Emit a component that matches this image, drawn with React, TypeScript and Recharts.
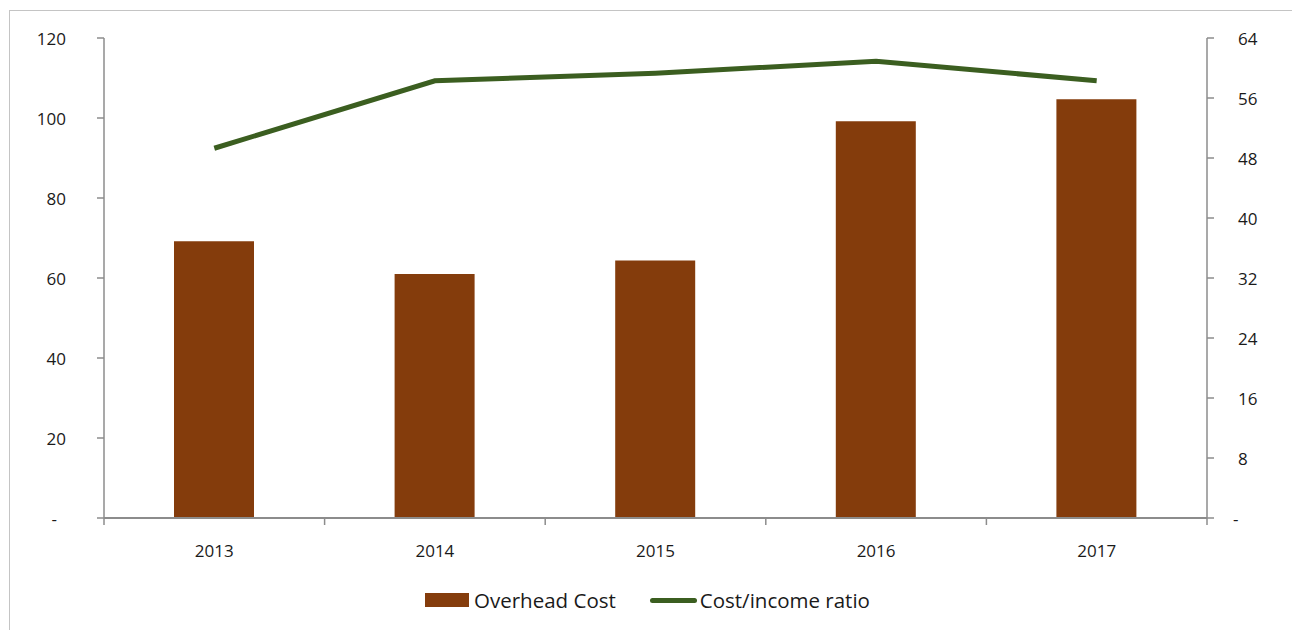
import React from 'react';
import {
  ComposedChart,
  Bar,
  Line,
  XAxis,
  YAxis,
  Legend,
} from 'recharts';

const years = ['2013', '2014', '2015', '2016', '2017'];
const overheadCost = [69.2, 61, 64.4, 99.2, 104.7];
const costIncomeRatio = [49.3, 58.3, 59.3, 60.9, 58.3];
const leftTicks = [0, 20, 40, 60, 80, 100, 120];
const rightTicks = [0, 8, 16, 24, 32, 40, 48, 56, 64];

const data = years.map((year, i) => ({
  year,
  cost: overheadCost[i],
  ratio: costIncomeRatio[i],
}));

const W = 1292;
const H = 630;
const FONT = '"Open Sans", sans-serif';
const BAR_COLOR = '#843C0C';
const LINE_COLOR = '#3B5E20';
const AXIS_COLOR = '#8C8C8C';

const PLOT_LEFT = 104;
const PLOT_RIGHT = 1207;
const BAND = (PLOT_RIGHT - PLOT_LEFT) / years.length;

const LeftTick = (props: any) => {
  const { x, y, payload } = props;
  const zero = payload.value === 0;
  return (
    <text
      x={zero ? x - 9 : x}
      y={y}
      textAnchor="end"
      dominantBaseline="central"
      fontFamily={FONT}
      fontSize={17}
      fill="#1a1a1a"
    >
      {zero ? '-' : payload.value}
    </text>
  );
};

const RightTick = (props: any) => {
  const { x, y, payload } = props;
  const zero = payload.value === 0;
  return (
    <text
      x={zero ? x - 5 : x}
      y={y}
      textAnchor="start"
      dominantBaseline="central"
      fontFamily={FONT}
      fontSize={17}
      fill="#1a1a1a"
    >
      {zero ? '-' : payload.value}
    </text>
  );
};

const YearTick = (props: any) => {
  const { x, y, payload, index, visibleTicksCount } = props;
  const last = index === visibleTicksCount - 1;
  return (
    <g>
      <line x1={x - BAND / 2} x2={x - BAND / 2} y1={y} y2={y + 7} stroke={AXIS_COLOR} strokeWidth={1.5} />
      {last && (
        <line x1={x + BAND / 2} x2={x + BAND / 2} y1={y} y2={y + 7} stroke={AXIS_COLOR} strokeWidth={1.5} />
      )}
      <text
        x={x}
        y={y + 32}
        textAnchor="middle"
        dominantBaseline="central"
        fontFamily={FONT}
        fontSize={17}
        fill="#1a1a1a"
      >
        {payload.value}
      </text>
    </g>
  );
};

const LegendContent = () => (
  <div
    style={{
      height: 40,
      display: 'flex',
      justifyContent: 'center',
      alignItems: 'center',
      fontFamily: FONT,
      fontSize: 20.5,
      color: '#1a1a1a',
      position: 'relative',
      top: 12,
    }}
  >
    <span style={{ display: 'inline-block', width: 44, height: 14, background: BAR_COLOR, marginRight: 5 }} />
    <span style={{ marginRight: 34 }}>Overhead Cost</span>
    <span
      style={{ display: 'inline-block', width: 47, height: 5, borderRadius: 3, background: LINE_COLOR, marginRight: 3 }}
    />
    <span>Cost/income ratio</span>
  </div>
);

export default function App() {
  return (
    <div style={{ position: 'absolute', left: 0, top: 0, width: W, height: H, overflow: 'hidden', background: '#fff' }}>
      <div
        style={{
          position: 'absolute',
          left: 9,
          top: 10,
          width: W + 20,
          height: H + 20,
          border: '1.5px solid #c4c4c4',
        }}
      />
      <div style={{ position: 'absolute', left: 0, top: 0 }}>
        <ComposedChart
          width={W}
          height={H}
          data={data}
          margin={{ top: 38, right: 5, bottom: 22, left: 8 }}
          barCategoryGap={0}
        >
          <XAxis
            dataKey="year"
            height={50}
            tickSize={0}
            tickMargin={0}
            tickLine={false}
            axisLine={{ stroke: AXIS_COLOR, strokeWidth: 2 }}
            tick={<YearTick />}
            interval={0}
          />
          <YAxis
            yAxisId="left"
            width={96}
            domain={[0, 120]}
            ticks={leftTicks}
            tickSize={7}
            tickMargin={31}
            axisLine={{ stroke: AXIS_COLOR, strokeWidth: 1.5 }}
            tickLine={{ stroke: AXIS_COLOR, strokeWidth: 1.5 }}
            tick={<LeftTick />}
            interval={0}
          />
          <YAxis
            yAxisId="right"
            orientation="right"
            width={80}
            domain={[0, 64]}
            ticks={rightTicks}
            tickSize={7}
            tickMargin={24}
            axisLine={{ stroke: AXIS_COLOR, strokeWidth: 1.5 }}
            tickLine={{ stroke: AXIS_COLOR, strokeWidth: 1.5 }}
            tick={<RightTick />}
            interval={0}
          />
          <Legend verticalAlign="bottom" height={40} content={<LegendContent />} />
          <Bar
            yAxisId="left"
            dataKey="cost"
            name="Overhead Cost"
            fill={BAR_COLOR}
            barSize={80}
            isAnimationActive={false}
          />
          <Line
            yAxisId="right"
            dataKey="ratio"
            name="Cost/income ratio"
            stroke={LINE_COLOR}
            strokeWidth={5}
            dot={false}
            isAnimationActive={false}
          />
        </ComposedChart>
      </div>
    </div>
  );
}
